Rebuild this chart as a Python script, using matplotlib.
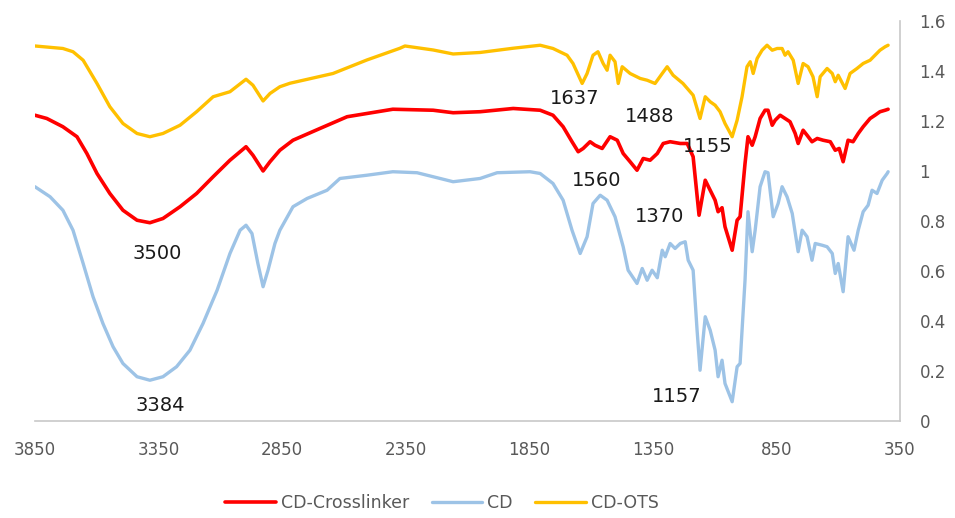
import matplotlib
matplotlib.use("Agg")
import matplotlib.pyplot as plt

# ---- data ----
wn_ots = [3850, 3737, 3696, 3655, 3599, 3547, 3494, 3437, 3385, 3332, 3263, 3196, 3129, 3061, 2996,
          2968, 2927, 2899, 2859, 2818, 2644, 2507, 2373, 2353, 2239, 2158, 2049, 1915, 1806, 1754,
          1697, 1673, 1636, 1616, 1592, 1572, 1551, 1535, 1523, 1503, 1490, 1474, 1442, 1401, 1373,
          1341, 1312, 1292, 1268, 1228, 1187, 1159, 1138, 1118, 1098, 1078, 1058, 1029, 1009, 989,
          969, 956, 944, 928, 908, 888, 867, 847, 827, 815, 803, 782, 762, 742, 722, 702, 685, 673,
          645, 624, 612, 600, 572, 552, 524, 499, 471, 451, 431, 410, 398]
ab_ots = [1.5, 1.49, 1.477, 1.443, 1.35, 1.257, 1.19, 1.15, 1.137, 1.15, 1.183, 1.237, 1.297, 1.317, 1.367,
          1.343, 1.28, 1.31, 1.337, 1.351, 1.39, 1.444, 1.491, 1.5, 1.484, 1.468, 1.474, 1.491, 1.503, 1.49,
          1.463, 1.43, 1.35, 1.39, 1.463, 1.477, 1.43, 1.403, 1.463, 1.437, 1.35, 1.417, 1.39, 1.37, 1.363,
          1.35, 1.39, 1.417, 1.383, 1.35, 1.303, 1.21, 1.297, 1.277, 1.263, 1.237, 1.19, 1.137, 1.203, 1.297,
          1.417, 1.437, 1.39, 1.45, 1.483, 1.503, 1.483, 1.49, 1.49, 1.463, 1.477, 1.443, 1.35, 1.43, 1.417, 1.377, 1.297, 1.377,
          1.41, 1.39, 1.357, 1.383, 1.33, 1.39, 1.41, 1.43, 1.443, 1.463, 1.483, 1.497, 1.503]

wn_cl = [3850, 3802, 3737, 3680, 3640, 3599, 3547, 3494, 3437, 3385, 3332, 3263, 3196, 3129, 3061,
         2996, 2968, 2927, 2899, 2859, 2806, 2697, 2587, 2402, 2239, 2158, 2049, 1915, 1806, 1754,
         1713, 1677, 1652, 1632, 1604, 1584, 1555, 1523, 1494, 1470, 1442, 1414, 1389, 1361, 1332,
         1308, 1280, 1239, 1211, 1187, 1163, 1138, 1118, 1098, 1086, 1070, 1058, 1029, 1009, 997,
         977, 965, 948, 936, 916, 896, 884, 867, 855, 835, 815, 795, 774, 762, 742, 726, 706, 685,
         661, 632, 612, 596, 580, 560, 540, 519, 499, 471, 451, 431, 410, 398]
ab_cl = [1.223, 1.21, 1.177, 1.137, 1.07, 0.99, 0.91, 0.843, 0.803, 0.793, 0.81, 0.857, 0.91, 0.977, 1.043,
         1.097, 1.063, 1.0, 1.037, 1.083, 1.123, 1.17, 1.217, 1.247, 1.243, 1.233, 1.237, 1.25, 1.243, 1.223,
         1.177, 1.117, 1.077, 1.09, 1.117, 1.103, 1.09, 1.137, 1.123, 1.07, 1.037, 1.003, 1.05, 1.043, 1.07,
         1.11, 1.117, 1.11, 1.11, 1.057, 0.823, 0.963, 0.923, 0.883, 0.837, 0.853, 0.777, 0.683, 0.803, 0.817,
         1.03, 1.137, 1.103, 1.137, 1.21, 1.243, 1.243, 1.183, 1.203, 1.223, 1.21, 1.197, 1.15, 1.11, 1.163, 1.143, 1.117, 1.13,
         1.123, 1.117, 1.083, 1.09, 1.037, 1.123, 1.117, 1.15, 1.177, 1.21, 1.223, 1.237, 1.243, 1.247]

wn_cd = [3850, 3789, 3737, 3696, 3655, 3615, 3575, 3534, 3494, 3437, 3385, 3332, 3277, 3223, 3170,
         3113, 3061, 3020, 2996, 2972, 2948, 2927, 2907, 2879, 2859, 2806, 2749, 2668, 2616, 2507,
         2402, 2304, 2239, 2158, 2049, 1980, 1847, 1806, 1754, 1713, 1677, 1644, 1616, 1592, 1563,
         1535, 1503, 1470, 1450, 1414, 1393, 1373, 1353, 1332, 1312, 1300, 1280, 1260, 1239, 1219,
         1207, 1187, 1171, 1159, 1138, 1118, 1098, 1086, 1070, 1058, 1029, 1009, 997, 977, 965, 948,
         936, 916, 896, 884, 863, 843, 827, 807, 786, 762, 746, 726, 706, 693, 665, 645, 624, 612,
         600, 580, 560, 536, 519, 499, 479, 463, 443, 422, 402, 398]
ab_cd = [0.937, 0.897, 0.843, 0.763, 0.63, 0.497, 0.39, 0.297, 0.23, 0.177, 0.163, 0.177, 0.217, 0.283, 0.39,
         0.523, 0.67, 0.763, 0.783, 0.75, 0.63, 0.537, 0.603, 0.71, 0.763, 0.857, 0.89, 0.923, 0.97, 0.983,
         0.997, 0.993, 0.977, 0.957, 0.97, 0.993, 0.997, 0.99, 0.95, 0.883, 0.763, 0.67, 0.737, 0.87, 0.903,
         0.883, 0.817, 0.697, 0.603, 0.55, 0.61, 0.563, 0.603, 0.573, 0.683, 0.657, 0.71, 0.69, 0.71, 0.717,
         0.643, 0.603, 0.363, 0.203, 0.417, 0.363, 0.283, 0.177, 0.243, 0.15, 0.077, 0.217, 0.23, 0.563, 0.837, 0.677,
         0.763, 0.937, 0.997, 0.993, 0.817, 0.87, 0.937, 0.897, 0.83, 0.677, 0.763, 0.737, 0.643, 0.71, 0.703, 0.697, 0.67, 0.59,
         0.63, 0.517, 0.737, 0.683, 0.763, 0.837, 0.863, 0.923, 0.91, 0.963, 0.99, 0.997]

series_names = ["CD-Crosslinker", "CD", "CD-OTS"]
x_ticks = [3850, 3350, 2850, 2350, 1850, 1350, 850, 350]
y_ticks = [0, 0.2, 0.4, 0.6, 0.8, 1, 1.2, 1.4, 1.6]
y_tick_labels = ["0", "0.2", "0.4", "0.6", "0.8", "1", "1.2", "1.4", "1.6"]

ann_text = ["3500", "3384", "1637", "1488", "1155", "1560", "1370", "1157"]
ann_x = [3356, 3344, 1665, 1361, 1126, 1576, 1321, 1252]
ann_y = [0.67, 0.063, 1.29, 1.217, 1.097, 0.963, 0.817, 0.097]

# ---- plot ----
plt.rcParams['font.family'] = ['DejaVu Sans']
fig = plt.figure(figsize=(9.55, 5.18), dpi=100)
ax = fig.add_axes([0.0366, 0.1873, 0.9058, 0.7722])

line_kw = dict(solid_joinstyle="round", solid_capstyle="round", zorder=3)
ax.plot(wn_cl, ab_cl, color="#FF0000", lw=2.6, label=series_names[0], **line_kw)
ax.plot(wn_cd, ab_cd, color="#9DC3E6", lw=2.4, label=series_names[1], **line_kw)
ax.plot(wn_ots, ab_ots, color="#FFC000", lw=2.4, label=series_names[2], **line_kw)

ax.set_xlim(3850, 350)
ax.set_ylim(0, 1.6)
ax.set_xticks(x_ticks)
ax.set_xticklabels([str(t) for t in x_ticks])
ax.set_yticks(y_ticks)
ax.set_yticklabels(y_tick_labels)

ax.yaxis.tick_right()
ax.tick_params(axis='both', length=0, colors="#595959", labelsize=12)
ax.tick_params(axis='x', pad=14.5)
ax.tick_params(axis='y', pad=14)
for s in ["top", "left"]:
    ax.spines[s].set_visible(False)
for s in ["bottom", "right"]:
    ax.spines[s].set_color("#C8C8C8")
    ax.spines[s].set_linewidth(1.2)

for t, x, y in zip(ann_text, ann_x, ann_y):
    ax.text(x, y, t, ha="center", va="center", fontsize=14, color="#1a1a1a", zorder=5)

fig.legend(loc="center", bbox_to_anchor=(0.463, 0.029), ncol=3, frameon=False,
           fontsize=12.5, handlelength=2.9, columnspacing=1.3, handletextpad=0.3,
           labelcolor="#595959")

fig.savefig("out.png", dpi=100)
